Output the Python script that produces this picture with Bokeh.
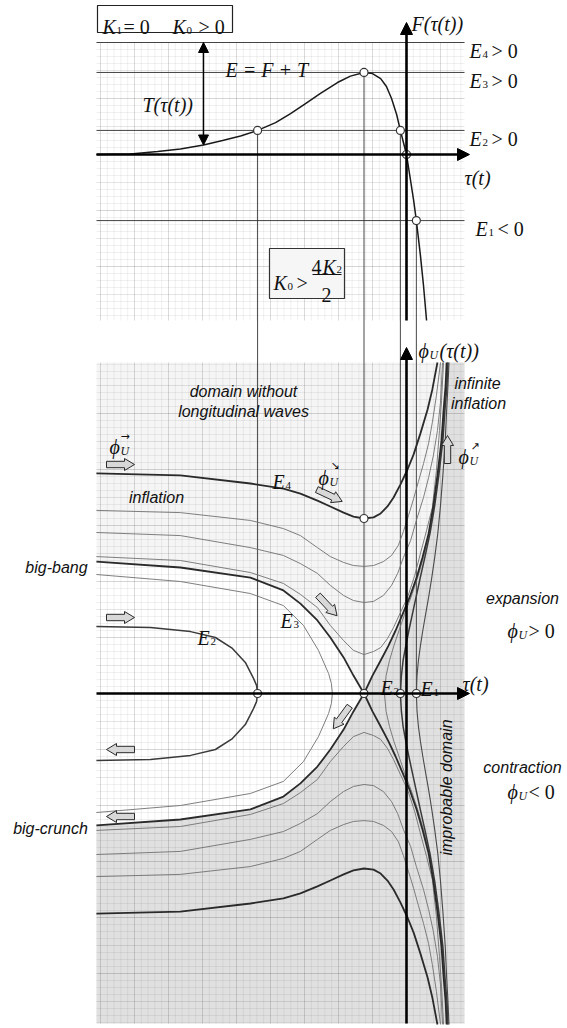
import numpy as np
from bokeh.plotting import figure
from bokeh.models import Range1d, Arrow, NormalHead
from bokeh.core.properties import value
from bokeh.embed import file_html
from bokeh.resources import INLINE

# ===================== DATA (chart units: tau horizontally, F / phi vertically) =====================
# Upper panel: potential F(tau(t))
tau_F = [-9.12, -8.12, -7.32, -6.65, -5.97, -5.41, -4.88, -4.38, -3.85, -3.41, -2.97,
         -2.53, -2.03, -1.65, -1.25, -1.0, -0.76, -0.59, -0.44, -0.29, -0.18, -0.09,
         0.0, 0.12, 0.21, 0.29, 0.41, 0.5, 0.59]
F_tau = [0.0, 0.02, 0.11, 0.2, 0.34, 0.5, 0.66, 0.86, 1.14, 1.46, 1.82,
         2.18, 2.57, 2.8, 2.93, 2.89, 2.71, 2.43, 2.0, 1.43, 0.86, 0.43,
         0.0, -0.93, -1.64, -2.36, -3.61, -4.68, -5.93]

energy_names = ["E4", "E3", "E2", "E1"]
energy_levels = [4.0, 2.93, 0.86, -2.36]

# intersections of the energy levels with F (upper panel)
tau_cross = [-4.38, -1.25, -0.18, 0.0, 0.29]
F_cross = [0.86, 2.93, 0.86, 0.0, -2.36]
# turning points on the tau axis (lower panel) and their F level
tau_turn = [-4.38, -1.25, -0.18, 0.29]
F_turn = [0.86, 2.93, 0.86, -2.36]

# Lower panel: phase curves phi_U(tau) (upper branches, lower branches are their mirror images)
tau_left = [-9.12, -6.65, -4.59, -3.62, -3.12, -2.62, -2.24, -1.85, -1.56, -1.25]
phi_E4_left = [7.86, 7.79, 7.5, 7.32, 7.14, 6.89, 6.68, 6.46, 6.32, 6.25]
phi_Ea_left = [6.54, 6.46, 6.18, 5.89, 5.64, 5.21, 4.89, 4.68, 4.57, 4.54]
phi_Eb_left = [5.75, 5.64, 5.21, 4.93, 4.64, 4.29, 3.86, 3.5, 3.32, 3.25]
phi_Ec_left = [4.89, 4.75, 4.32, 3.93, 3.54, 3.07, 2.43, 1.89, 1.54, 1.39]
phi_E3_left = [4.71, 4.5, 4.14, 3.68, 3.21, 2.61, 2.0, 1.29, 0.64, 0.0]

tau_E4_right = [-0.97, -0.76, -0.56, -0.38, -0.18, 0.03, 0.21, 0.41, 0.62, 0.76, 0.91]
phi_E4_right = [6.29, 6.43, 6.68, 7.0, 7.46, 8.0, 8.54, 9.29, 10.14, 10.86, 11.82]
tau_Ea_right = [-0.97, -0.68, -0.44, -0.24, -0.09, 0.06, 0.21, 0.35, 0.5, 0.65, 0.76, 0.88, 1.0]
phi_Ea_right = [4.57, 4.71, 4.93, 5.29, 5.79, 6.36, 6.96, 7.57, 8.21, 8.93, 9.68, 10.64, 11.82]
tau_Eb_right = [-0.97, -0.68, -0.44, -0.26, -0.09, 0.12, 0.29, 0.5, 0.65, 0.79, 0.91, 1.0, 1.06]
phi_Eb_right = [3.29, 3.5, 3.86, 4.29, 4.86, 5.46, 6.18, 7.0, 7.71, 8.5, 9.39, 10.4, 11.82]
tau_Ec_right = [-0.97, -0.76, -0.56, -0.38, -0.18, 0.03, 0.24, 0.41, 0.59, 0.76, 0.88, 0.97, 1.03, 1.09]
phi_Ec_right = [1.5, 1.64, 1.96, 2.36, 2.89, 3.43, 4.21, 5.0, 5.82, 6.64, 7.96, 9.39, 10.46, 11.82]

phi_right = [0.0, 0.64, 1.18, 1.71, 2.25, 2.82, 3.43, 4.11, 4.86, 5.71, 6.71, 7.79, 9.04, 10.11, 11.0, 11.82]
tau_E3_right = [-1.25, -1.0, -0.76, -0.53, -0.32, -0.12, 0.09, 0.29, 0.47, 0.65, 0.79, 0.91, 1.03, 1.09, 1.15, 1.18]
tau_Ed_right = [-0.65, -0.6, -0.5, -0.37, -0.22, -0.06, 0.13, 0.32, 0.5, 0.67, 0.81, 0.93, 1.05, 1.11, 1.17, 1.2]
tau_E2_right = [-0.18, -0.15, -0.1, -0.02, 0.07, 0.17, 0.28, 0.4, 0.54, 0.69, 0.83, 0.95, 1.07, 1.13, 1.19, 1.22]
tau_E1_right = [0.29, 0.31, 0.35, 0.41, 0.48, 0.56, 0.65, 0.74, 0.83, 0.92, 1.0, 1.07, 1.14, 1.18, 1.22, 1.25]

tau_Ed_left = [-9.12, -6.65, -4.59, -3.62, -3.03, -2.59, -2.29, -2.21, -2.18]
phi_Ed_left = [4.25, 4.0, 3.57, 3.14, 2.43, 1.54, 0.71, 0.36, 0.0]
tau_E2_left = [-9.12, -7.53, -6.35, -5.62, -5.12, -4.74, -4.5, -4.41, -4.38]
phi_E2_left = [2.39, 2.36, 2.21, 2.0, 1.61, 1.11, 0.54, 0.29, 0.0]

# ===================== LAYOUT =====================
SX, SY = 34.0, 28.0          # px per unit
X0, Y0 = 406.0, 693.0        # page px of the origin of the lower panel
TOP_OFF = (693.0 - 154.0) / SY  # vertical offset of the upper panel


def X(px):
    return (px - X0) / SX


def Y(py):
    return (Y0 - py) / SY


TAU_L, TAU_R = X(96), X(464)
F_BOT, F_TOP = Y(320) - TOP_OFF, energy_levels[0]
PHI_T, PHI_B = Y(362), Y(1023)

W, H = 566, 1026
p = figure(width=W, height=H, output_backend="svg", toolbar_location=None,
           x_range=Range1d(X(0), X(W)), y_range=Range1d(Y(H), Y(0)),
           x_axis_type=None, y_axis_type=None, min_border=0,
           outline_line_color=None, background_fill_color="white", border_fill_color="white")
p.xgrid.visible = False
p.ygrid.visible = False


def mirror(a):
    return [-v for v in a]


# ---------- backgrounds of the lower panel ----------
p.quad(left=[TAU_L], right=[TAU_R], bottom=[PHI_B], top=[PHI_T], fill_color="#f5f5f5", line_color=None)
p.patch(tau_left + tau_left[::-1], phi_E3_left + mirror(phi_E3_left)[::-1], fill_color="white", line_color=None)
p.patch(tau_left + tau_E3_right[1:] + [TAU_R, TAU_R, TAU_L],
        mirror(phi_E3_left) + phi_right[1:] + [PHI_T, PHI_B, PHI_B],
        fill_color="#e0e0e0", line_color=None)


# ---------- grids ----------
def draw_grid(v_lo, v_hi, off):
    vt = np.round(np.arange(-9.0, TAU_R, 0.2), 3)
    vmin = [t for t in vt if abs(t - round(t)) > 1e-6]
    vmaj = [t for t in vt if abs(t - round(t)) <= 1e-6]
    p.segment(vmin, [v_lo + off] * len(vmin), vmin, [v_hi + off] * len(vmin),
              line_color="black", line_alpha=0.06, line_width=1)
    p.segment(vmaj, [v_lo + off] * len(vmaj), vmaj, [v_hi + off] * len(vmaj),
              line_color="black", line_alpha=0.14, line_width=1)
    ht = np.round(np.arange(np.ceil(v_lo * 4) / 4, v_hi + 1e-6, 0.25), 3)
    hmin = [t for t in ht if abs(t - round(t)) > 1e-6]
    hint = [t for t in ht if abs(t - round(t)) <= 1e-6 and int(round(t)) % 2 != 0]
    heven = [t for t in ht if abs(t - round(t)) <= 1e-6 and int(round(t)) % 2 == 0]
    for vals, a in ((hmin, 0.06), (hint, 0.10), (heven, 0.16)):
        ys = [v + off for v in vals]
        p.segment([TAU_L] * len(ys), ys, [TAU_R] * len(ys), ys,
                  line_color="black", line_alpha=a, line_width=1)


draw_grid(F_BOT, F_TOP, TOP_OFF)
draw_grid(PHI_B, PHI_T, 0.0)

# ---------- upper panel ----------
p.segment([TAU_L] * 4, [e + TOP_OFF for e in energy_levels], [TAU_R] * 4,
          [e + TOP_OFF for e in energy_levels], line_color="#444", line_width=1)
# connectors to the lower panel
p.segment(tau_turn, [f + TOP_OFF for f in F_turn], tau_turn, [0] * 4, line_color="#333", line_width=0.9)
p.line(tau_F, [f + TOP_OFF for f in F_tau], line_color="#1a1a1a", line_width=1.5)

# ---------- lower panel curves ----------
thin_xs, thin_ys, thick_xs, thick_ys = [], [], [], []
for s in (1, -1):
    sg = lambda a: [s * v for v in a]
    thick_xs += [tau_left + tau_E4_right, tau_left, tau_E3_right]
    thick_ys += [sg(phi_E4_left + phi_E4_right), sg(phi_E3_left), sg(phi_right)]
    thin_xs += [tau_left + tau_Ea_right, tau_left + tau_Eb_right, tau_left + tau_Ec_right]
    thin_ys += [sg(phi_Ea_left + phi_Ea_right), sg(phi_Eb_left + phi_Eb_right), sg(phi_Ec_left + phi_Ec_right)]
thin_xs += [tau_Ed_left + tau_Ed_left[::-1], tau_Ed_right[::-1] + tau_Ed_right]
thin_ys += [phi_Ed_left + mirror(phi_Ed_left)[::-1], mirror(phi_right)[::-1] + phi_right]

p.multi_line(thin_xs, thin_ys, line_color="#707070", line_width=0.9)
p.multi_line([tau_E1_right[::-1] + tau_E1_right], [mirror(phi_right)[::-1] + phi_right],
             line_color="#4a4a4a", line_width=1.1)
p.multi_line([tau_E2_left + tau_E2_left[::-1], tau_E2_right[::-1] + tau_E2_right],
             [phi_E2_left + mirror(phi_E2_left)[::-1], mirror(phi_right)[::-1] + phi_right],
             line_color="#3a3a3a", line_width=1.5)
p.multi_line(thick_xs, thick_ys, line_color="#2a2a2a", line_width=1.8)

# ---------- axes ----------
def axis_arrow(x0, y0, x1, y1, lw=2.6, size=12):
    p.add_layout(Arrow(end=NormalHead(size=size, fill_color="black", line_color="black", line_width=1),
                       x_start=x0, y_start=y0, x_end=x1, y_end=y1,
                       line_color="black", line_width=lw))


axis_arrow(TAU_L, TOP_OFF, X(469), TOP_OFF)
axis_arrow(0, F_BOT + TOP_OFF, 0, Y(22))
axis_arrow(TAU_L, 0, X(469), 0)
axis_arrow(0, PHI_B, 0, Y(347))

# T(tau) double arrow between E4 and F
tT = tau_F[4]
p.add_layout(Arrow(start=NormalHead(size=10, fill_color="black", line_color="black"),
                   end=NormalHead(size=10, fill_color="black", line_color="black"),
                   x_start=tT, y_start=F_tau[4] + TOP_OFF, x_end=tT, y_end=energy_levels[0] + TOP_OFF,
                   line_color="black", line_width=1.4))

# ---------- points ----------
p.scatter(tau_cross, [f + TOP_OFF for f in F_cross], size=8, fill_color="white",
          line_color="#333", line_width=1.2)
p.scatter(tau_turn + [tau_left[-1]], [0, 0, 0, 0, phi_E4_left[-1]], size=8, fill_color="white",
          line_color="#333", line_width=1.2)

# ---------- block arrows ----------
def block_arrow(cx, cy, ang, L=28, sh=3.2, hh=6.0, hl=10.0):
    pts = [(-L / 2, -sh), (L / 2 - hl, -sh), (L / 2 - hl, -hh), (L / 2, 0),
           (L / 2 - hl, hh), (L / 2 - hl, sh), (-L / 2, sh)]
    a = np.deg2rad(ang)
    xs = [X(cx) + (u * np.cos(a) - v * np.sin(a)) / SX for u, v in pts]
    ys = [Y(cy) + (u * np.sin(a) + v * np.cos(a)) / SY for u, v in pts]
    return xs, ys


barrows = [(120, 464, 0), (120, 617, 0), (329, 495, -25), (327, 605, -47),
           (341, 717, -126), (120, 749, 180), (120, 816, 180), (447, 449, 90)]
bx, by = [], []
for cx, cy, ang in barrows:
    a, b = block_arrow(cx, cy, ang)
    bx.append(a)
    by.append(b)
p.patches(bx, by, fill_color="#d8d8d8", line_color="#2a2a2a", line_width=1)

# ---------- boxes ----------
p.quad(left=[X(97)], right=[X(232)], top=[Y(5)], bottom=[Y(32)], fill_color="white",
       line_color="#222", line_width=1.2)
p.quad(left=[X(269)], right=[X(344)], top=[Y(248)], bottom=[Y(298)], fill_color="#f6f6f6",
       line_color="#333", line_width=1.2)
p.segment([X(312)], [Y(274)], [X(341)], [Y(274)], line_color="#111", line_width=1)

# ---------- texts ----------
def put(items, font, size, style="normal", align="left", baseline="alphabetic", angle=0.0, color="#111"):
    p.text(x=[X(a[1]) for a in items], y=[Y(a[2]) for a in items], text=[a[0] for a in items],
           text_font=value(font), text_font_size=size, text_font_style=style,
           text_align=align, text_baseline=baseline, angle=angle, text_color=color)


SERIF = "Liberation Serif"
SANS = "Liberation Sans"

put([("domain without", 243, 391), ("longitudinal waves", 243, 411), ("inflation", 156, 497),
     ("big-bang", 56, 567), ("big-crunch", 50, 828), ("expansion", 522, 598),
     ("contraction", 522, 767), ("infinite", 477, 383), ("inflation", 478, 403)],
    SANS, "16px", "italic", "center", "middle")
put([("improbable domain", 446, 787)], SANS, "16px", "italic", "center", "middle", angle=np.pi / 2)

# italic math letters
put([("E = F + T", 225, 69), ("T(τ(t))", 142, 104), ("F(τ(t))", 411, 23),
     ("τ(t)", 464, 177), ("τ(t)", 462, 683), ("(τ(t))", 439, 350),
     ("E", 469, 50), ("E", 469, 80), ("E", 469, 138), ("E", 475, 228),
     ("E", 272, 481), ("E", 280, 620), ("E", 197, 637), ("E", 380, 687), ("E", 420, 688),
     ("K", 102, 26), ("K", 172, 26), ("K", 273, 282), ("K", 322, 266),
     ("ϕ", 418, 350), ("ϕ", 109, 446), ("ϕ", 318, 477), ("ϕ", 458, 456),
     ("ϕ", 507, 630), ("ϕ", 507, 791)],
    SERIF, "20px", "italic")
# upright operators / numbers
put([("> 0", 491, 50), ("> 0", 491, 80), ("> 0", 491, 138), ("< 0", 497, 228),
     ("= 0", 123, 26), ("> 0", 198, 26), (">", 296, 282), ("4", 311, 266), ("2", 321, 294),
     ("> 0", 528, 630), ("< 0", 528, 791)],
    SERIF, "20px", "normal")
# subscripts
put([(n[1], 482, 54 + 30 * i) for i, n in enumerate(energy_names[:2])] +
    [("2", 482, 142), ("1", 488, 232), ("4", 285, 485), ("3", 293, 624), ("2", 210, 641),
     ("2", 393, 691), ("1", 433, 692), ("1", 116, 30), ("0", 186, 30), ("0", 287, 286), ("2", 336, 269)],
    SERIF, "11px", "normal")
put([("U", 429, 354), ("U", 120, 450), ("U", 329, 481), ("U", 469, 460), ("U", 518, 634), ("U", 518, 795)],
    SERIF, "12px", "italic")
put([("→", 120, 436), ("↘", 330, 465), ("↗", 470, 446)], "DejaVu Sans", "11px", "normal")

open("out.html", "w").write(file_html(p, INLINE))
